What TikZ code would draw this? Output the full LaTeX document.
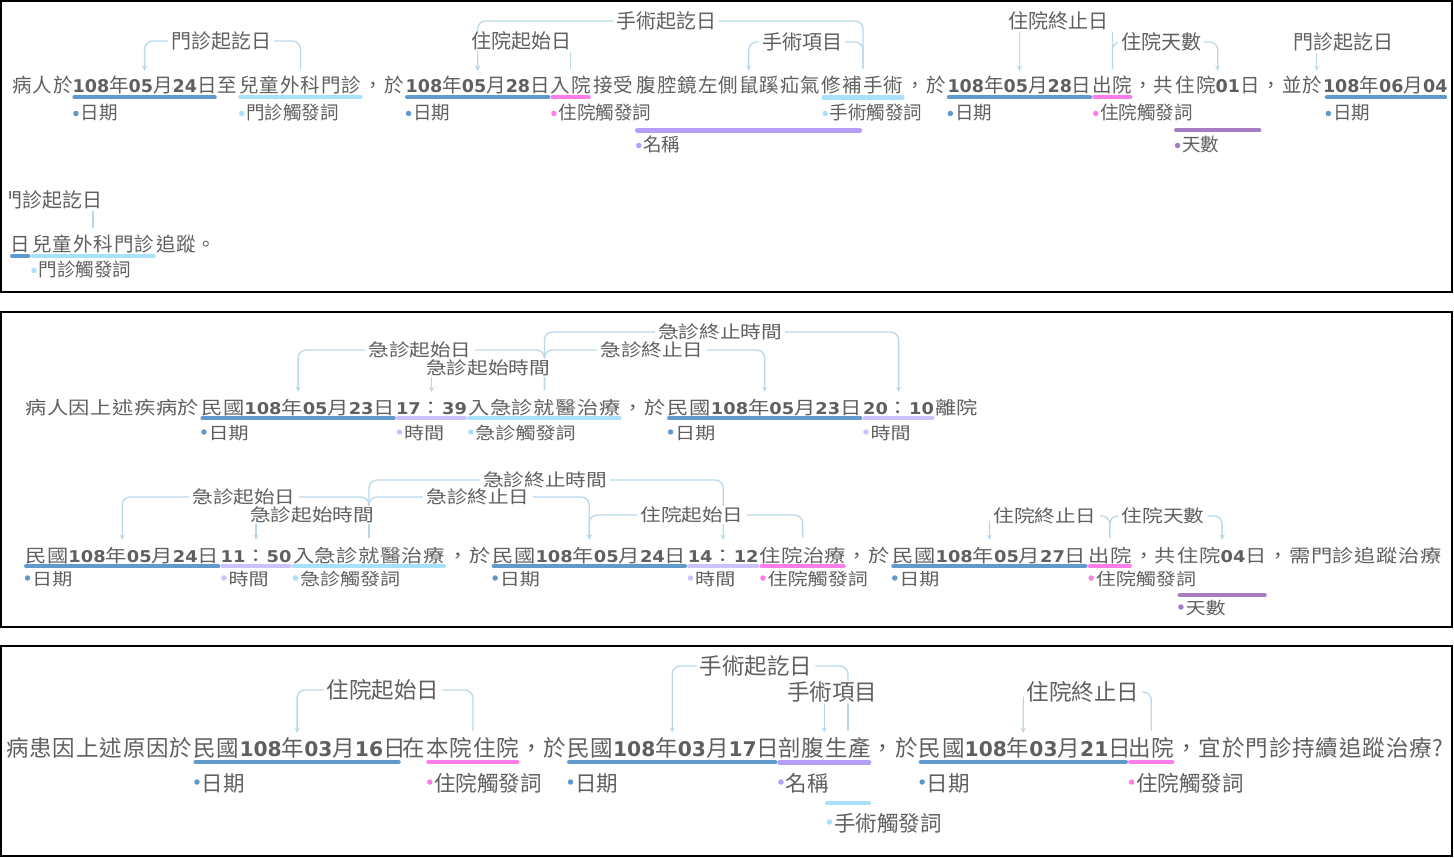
\documentclass[tikz,border=0pt]{standalone}
\usepackage{fontspec}
\setmainfont{Noto Sans CJK TC}
\newfontfamily\cjkI[LetterSpace=5]{Noto Sans CJK TC}
\newfontfamily\cjkII[FakeStretch=1.18, LetterSpace=3]{Noto Sans CJK TC}
\newfontfamily\cjkIII[LetterSpace=4]{Noto Sans CJK TC}
\newfontfamily\widecjk[FakeStretch=1.18]{Noto Sans CJK TC}
\newfontfamily\digitfont[Scale=0.9]{DejaVu Sans}
\newfontfamily\digitfontw[Scale=0.9, FakeStretch=1.1]{DejaVu Sans}
\usepackage{tikz}
\usetikzlibrary{arrows, positioning, fit, backgrounds}

\definecolor{txtc}{RGB}{95,95,95}
\definecolor{relc}{RGB}{185,215,235}
\definecolor{datec}{RGB}{96,153,204}
\definecolor{trigc}{RGB}{170,225,250}
\definecolor{hospc}{RGB}{255,125,235}
\definecolor{timec}{RGB}{205,195,250}
\definecolor{namec}{RGB}{180,160,250}
\definecolor{dayc}{RGB}{165,125,195}

\newcommand{\digs}[1]{{\digitfont\bfseries #1}}
\newcommand{\digsw}[1]{{\digitfontw\bfseries #1}}
\newcommand{\segfontI}{\cjkI\fontsize{19.5}{24}\selectfont}
\newcommand{\tagfontI}{\fontsize{18.5}{22}\selectfont}
\newcommand{\annfontI}{\fontsize{20}{24}\selectfont}
\newcommand{\segfontII}{\cjkII\fontsize{18}{22}\selectfont}
\newcommand{\tagfontII}{\widecjk\fontsize{17}{20}\selectfont}
\newcommand{\annfontII}{\widecjk\fontsize{17.5}{21}\selectfont}
\newcommand{\segfontIII}{\cjkIII\fontsize{22.5}{27}\selectfont}
\newcommand{\tagfontIII}{\fontsize{21.5}{26}\selectfont}
\newcommand{\annfontIII}{\fontsize{22.5}{27}\selectfont}

\tikzstyle{seg} = [inner sep=0pt, text=txtc, align=center, text height=22pt, text depth=4pt]
\tikzstyle{segI} = [seg, font=\segfontI]
\tikzstyle{segII} = [seg, font=\segfontII]
\tikzstyle{segIII} = [seg, font=\segfontIII, text height=23pt, text depth=6pt]
\tikzstyle{ann} = [inner xsep=3pt, inner ysep=1pt, text=txtc, fill=white]
\tikzstyle{annI} = [ann, font=\annfontI]
\tikzstyle{annII} = [ann, font=\annfontII]
\tikzstyle{annIII} = [ann, font=\annfontIII]
\tikzstyle{relline} = [draw=relc, line width=1.3pt, rounded corners=8pt, shorten >=2pt]
\tikzstyle{relarrow} = [draw=relc, line width=1.3pt, rounded corners=8pt, ->, >=stealth]
\tikzstyle{frame} = [draw=black, line width=2pt]
\tikzset{
  bar/.style={draw=#1, line width=4.5pt, line cap=round, shorten <=2.25pt, shorten >=2.25pt},
  tag/.style={anchor=base west, inner sep=0pt, text=txtc, text depth=0pt,
    label={[circle, fill=#1, inner sep=0pt, minimum size=5.5pt, xshift=-1.5pt]left:}},
  tagI/.style={tag=#1, font=\tagfontI, text height=13pt},
  tagII/.style={tag=#1, font=\tagfontII, text height=14pt},
  tagIII/.style={tag=#1, font=\tagfontIII, text height=18pt}
}

\begin{document}
\begin{tikzpicture}[x=1pt, y=-1pt]
\useasboundingbox (0,0) rectangle (1454,858);

% Panel frames
\draw[frame] (1,1) rectangle (1452,292);
\draw[frame] (1,312) rectangle (1452,627);
\draw[frame] (1,646) rectangle (1452,856);

% ---------- Panel 1 ----------
% Place nodes
\node (p1s1) [segI, anchor=base west, text width=60pt] at (12,93) {病人於};
\node (p1a) [segI, text width=144pt, right=0pt of p1s1] {\digs{108}年\digs{05}月\digs{24}日};
\node (p1s2) [segI, text width=21pt, right=0pt of p1a] {至};
\node (p1b) [segI, text width=124pt, right=0pt of p1s2] {兒童外科門診};
\node (p1s3) [segI, text width=42pt, right=0pt of p1b] {，於};
\node (p1c) [segI, text width=145pt, right=0pt of p1s3] {\digs{108}年\digs{05}月\digs{28}日};
\node (p1d) [segI, text width=40pt, right=0pt of p1c] {入院};
\node (p1s4) [segI, text width=44pt, right=0pt of p1d] {接受};
\node (p1e) [segI, text width=186pt, right=0pt of p1s4] {腹腔鏡左側鼠蹊疝氣};
\node (p1f) [segI, text width=40pt, right=0pt of p1e] {修補};
\node (p1g) [segI, text width=42pt, right=0pt of p1f] {手術};
\node (p1s5) [segI, text width=42pt, right=0pt of p1g] {，於};
\node (p1h) [segI, text width=145pt, right=0pt of p1s5] {\digs{108}年\digs{05}月\digs{28}日};
\node (p1i) [segI, text width=40pt, right=0pt of p1h] {出院};
\node (p1s6) [segI, text width=41pt, right=0pt of p1i] {，共};
\node (p1j) [segI, text width=87pt, right=0pt of p1s6] {住院\digs{01}日};
\node (p1s7) [segI, text width=61pt, right=0pt of p1j] {，並於};
\node (p1k) [segI, text width=124pt, right=0pt of p1s7] {\digs{108}年\digs{06}月\digs{04}};
\node (p1nm) [fit=(p1e)(p1f), inner sep=0pt] {};
\node (p1op) [fit=(p1f)(p1g), inner sep=0pt] {};

\node (p1l) [segI, anchor=base west, text width=20pt] at (10,252) {日};
\node (p1m) [segI, text width=125pt, right=0pt of p1l] {兒童外科門診};
\node (p1s8) [segI, text width=60pt, right=0pt of p1m] {追蹤。};

% Underlines and tags
\draw[bar=datec] (p1a.south west) -- (p1a.south east);
\draw[bar=trigc] (p1b.south west) -- (p1b.south east);
\draw[bar=datec] (p1c.south west) -- (p1c.south east);
\draw[bar=hospc] (p1d.south west) -- (p1d.south east);
\draw[bar=trigc] (p1op.south west) -- (p1op.south east);
\draw[bar=datec] (p1h.south west) -- (p1h.south east);
\draw[bar=hospc] (p1i.south west) -- (p1i.south east);
\draw[bar=datec] ([xshift=2pt]p1k.south west) -- (p1k.south east);
\draw[bar=namec] ([yshift=-33pt]p1nm.south west) -- ([yshift=-33pt]p1nm.south east);
\draw[bar=dayc] ([yshift=-33pt]p1j.south west) -- ([yshift=-33pt]p1j.south east);
\draw[bar=datec] (p1l.south west) -- (p1l.south east);
\draw[bar=trigc] (p1m.south west) -- (p1m.south east);

\node (p1ta) [tagI=datec] at ([shift={(8pt,-27pt)}]p1a.base west) {日期};
\node (p1tb) [tagI=trigc] at ([shift={(8pt,-27pt)}]p1b.base west) {門診觸發詞};
\node (p1tc) [tagI=datec] at ([shift={(8pt,-27pt)}]p1c.base west) {日期};
\node (p1td) [tagI=hospc] at ([shift={(8pt,-27pt)}]p1d.base west) {住院觸發詞};
\node (p1tf) [tagI=trigc] at ([shift={(8pt,-27pt)}]p1f.base west) {手術觸發詞};
\node (p1th) [tagI=datec] at ([shift={(8pt,-27pt)}]p1h.base west) {日期};
\node (p1ti) [tagI=hospc] at ([shift={(8pt,-27pt)}]p1i.base west) {住院觸發詞};
\node (p1tk) [tagI=datec] at ([shift={(10pt,-27pt)}]p1k.base west) {日期};
\node (p1tn) [tagI=namec] at ([shift={(8pt,-59pt)}]p1e.base west) {名稱};
\node (p1tj) [tagI=dayc] at ([shift={(8pt,-59pt)}]p1j.base west) {天數};
\node (p1tm) [tagI=trigc] at ([shift={(8pt,-25pt)}]p1m.base west) {門診觸發詞};

% Relation labels
\node (p1x1) [annI] at (221,41) {門診起訖日};
\node (p1x2) [annI] at (521,41) {住院起始日};
\node (p1x3) [annI] at (666,21) {手術起訖日};
\node (p1x4) [annI] at (802,42) {手術項目};
\node (p1x5) [annI] at (1058,21) {住院終止日};
\node (p1x6) [annI] at (1161,42) {住院天數};
\node (p1x7) [annI] at (1343,42) {門診起訖日};
\begin{scope}
  \clip (9,170) rectangle (400,230);
  \node (p1x8) [annI] at (52,200) {門診起訖日};
\end{scope}
\coordinate (p1kt) at ([xshift=-6pt]p1k.north west);

% Draw edges
\begin{scope}[on background layer]
  \draw [relarrow] (p1x1.west) -| (p1a.north);
  \draw [relline] (p1x1.east) -| (p1b.north);
  \draw [relarrow] (p1x2.south -| p1c.north) -- (p1c.north);
  \draw [relline] (p1x2.south -| p1d.north) -- (p1d.north);
  \draw [relarrow] (p1x3.west) -| (p1c.north);
  \draw [relline] (p1x3.east) -| (p1op.north);
  \draw [relarrow] (p1x4.west) -| (p1nm.north);
  \draw [relline] (p1x4.east) -| (p1op.north);
  \draw [relarrow] (p1x5.south -| p1h.north) -- (p1h.north);
  \draw [relline] (p1x5.south -| p1i.north) -- (p1i.north);
  \draw [relline] (p1x6.west) -| (p1i.north);
  \draw [relarrow] (p1x6.east) -| (p1j.north);
  \draw [relarrow] (p1x7.south -| p1kt) -- (p1kt);
  \draw [relline] (p1x8.south -| p1m.north) -- (p1m.north);
\end{scope}

% ---------- Panel 2 ----------
% Place nodes
\node (p2s1) [segII, anchor=base west, text width=176pt] at (24,414) {病人因上述疾病於};
\node (p2a) [segII, text width=195pt, right=0pt of p2s1] {民國\digsw{108}年\digsw{05}月\digsw{23}日};
\node (p2b) [segII, text width=71pt, right=0pt of p2a] {\digsw{17}：\digsw{39}};
\node (p2c) [segII, text width=154pt, right=0pt of p2b] {入急診就醫治療};
\node (p2s2) [segII, text width=45pt, right=0pt of p2c] {，於};
\node (p2d) [segII, text width=195pt, right=0pt of p2s2] {民國\digsw{108}年\digsw{05}月\digsw{23}日};
\node (p2e) [segII, text width=72pt, right=0pt of p2d] {\digsw{20}：\digsw{10}};
\node (p2s3) [segII, text width=43pt, right=0pt of p2e] {離院};

\node (p2f) [segII, anchor=base west, text width=196pt] at (24,562) {民國\digsw{108}年\digsw{05}月\digsw{24}日};
\node (p2g) [segII, text width=71pt, right=0pt of p2f] {\digsw{11}：\digsw{50}};
\node (p2h) [segII, text width=154pt, right=0pt of p2g] {入急診就醫治療};
\node (p2s4) [segII, text width=45pt, right=0pt of p2h] {，於};
\node (p2i) [segII, text width=195pt, right=0pt of p2s4] {民國\digsw{108}年\digsw{05}月\digsw{24}日};
\node (p2j) [segII, text width=72pt, right=0pt of p2i] {\digsw{14}：\digsw{12}};
\node (p2k) [segII, text width=86pt, right=0pt of p2j] {住院治療};
\node (p2s5) [segII, text width=45pt, right=0pt of p2k] {，於};
\node (p2l) [segII, text width=196pt, right=0pt of p2s5] {民國\digsw{108}年\digsw{05}月\digsw{27}日};
\node (p2m) [segII, text width=44pt, right=0pt of p2l] {出院};
\node (p2s6) [segII, text width=45pt, right=0pt of p2m] {，共};
\node (p2n) [segII, text width=89pt, right=0pt of p2s6] {住院\digsw{04}日};
\node (p2s7) [segII, text width=175pt, right=0pt of p2n] {，需門診追蹤治療};

% Underlines and tags
\draw[bar=datec] (p2a.south west) -- (p2a.south east);
\draw[bar=timec] (p2b.south west) -- (p2b.south east);
\draw[bar=trigc] (p2c.south west) -- (p2c.south east);
\draw[bar=datec] (p2d.south west) -- (p2d.south east);
\draw[bar=timec] (p2e.south west) -- (p2e.south east);
\draw[bar=datec] (p2f.south west) -- (p2f.south east);
\draw[bar=timec] (p2g.south west) -- (p2g.south east);
\draw[bar=trigc] (p2h.south west) -- (p2h.south east);
\draw[bar=datec] (p2i.south west) -- (p2i.south east);
\draw[bar=timec] (p2j.south west) -- (p2j.south east);
\draw[bar=hospc] (p2k.south west) -- (p2k.south east);
\draw[bar=datec] (p2l.south west) -- (p2l.south east);
\draw[bar=hospc] (p2m.south west) -- (p2m.south east);
\draw[bar=dayc] ([yshift=-29pt]p2n.south west) -- ([yshift=-29pt]p2n.south east);

\node (p2ta) [tagII=datec] at ([shift={(8pt,-25pt)}]p2a.base west) {日期};
\node (p2tb) [tagII=timec] at ([shift={(8pt,-25pt)}]p2b.base west) {時間};
\node (p2tc) [tagII=trigc] at ([shift={(8pt,-25pt)}]p2c.base west) {急診觸發詞};
\node (p2td) [tagII=datec] at ([shift={(8pt,-25pt)}]p2d.base west) {日期};
\node (p2te) [tagII=timec] at ([shift={(8pt,-25pt)}]p2e.base west) {時間};
\node (p2tf) [tagII=datec] at ([shift={(8pt,-23pt)}]p2f.base west) {日期};
\node (p2tg) [tagII=timec] at ([shift={(8pt,-23pt)}]p2g.base west) {時間};
\node (p2th) [tagII=trigc] at ([shift={(8pt,-23pt)}]p2h.base west) {急診觸發詞};
\node (p2ti) [tagII=datec] at ([shift={(8pt,-23pt)}]p2i.base west) {日期};
\node (p2tj) [tagII=timec] at ([shift={(8pt,-23pt)}]p2j.base west) {時間};
\node (p2tk) [tagII=hospc] at ([shift={(8pt,-23pt)}]p2k.base west) {住院觸發詞};
\node (p2tl) [tagII=datec] at ([shift={(8pt,-23pt)}]p2l.base west) {日期};
\node (p2tm) [tagII=hospc] at ([shift={(8pt,-23pt)}]p2m.base west) {住院觸發詞};
\node (p2tn) [tagII=dayc] at ([shift={(8pt,-52pt)}]p2n.base west) {天數};

% Relation labels
\node (p2x1) [annII] at (420,350) {急診起始日};
\node (p2x2) [annII] at (488,368) {急診起始時間};
\node (p2x3) [annII] at (720,332) {急診終止時間};
\node (p2x4) [annII] at (652,350) {急診終止日};
\node (p2x5) [annII] at (244,497) {急診起始日};
\node (p2x6) [annII] at (312,515) {急診起始時間};
\node (p2x7) [annII] at (545,480) {急診終止時間};
\node (p2x8) [annII] at (478,497) {急診終止日};
\node (p2x9) [annII] at (692,515) {住院起始日};
\node (p2x10) [annII] at (1045,516) {住院終止日};
\node (p2x11) [annII] at (1163,516) {住院天數};

% Draw edges
\begin{scope}[on background layer]
  \draw [relarrow] (p2x1.west) -| (p2a.north);
  \draw [relline] (p2x1.east) -| (p2c.north);
  \draw [relarrow] (p2x2.south -| p2b.north) -- (p2b.north);
  \draw [relline] (p2x2.south -| p2c.north) -- (p2c.north);
  \draw [relline] (p2x3.west) -| (p2c.north);
  \draw [relarrow] (p2x3.east) -| (p2e.north);
  \draw [relline] (p2x4.west) -| (p2c.north);
  \draw [relarrow] (p2x4.east) -| (p2d.north);
  \draw [relarrow] (p2x5.west) -| (p2f.north);
  \draw [relline] (p2x5.east) -| (p2h.north);
  \draw [relarrow] (p2x6.south -| p2g.north) -- (p2g.north);
  \draw [relline] (p2x6.south -| p2h.north) -- (p2h.north);
  \draw [relline] (p2x7.west) -| (p2h.north);
  \draw [relarrow] (p2x7.east) -| (p2j.north);
  \draw [relline] (p2x8.west) -| (p2h.north);
  \draw [relarrow] (p2x8.east) -| (p2i.north);
  \draw [relarrow] (p2x9.west) -| (p2i.north);
  \draw [relline] (p2x9.east) -| (p2k.north);
  \draw [relarrow] (p2x10.west) -| (p2l.north);
  \draw [relline] (p2x10.east) -| (p2m.north);
  \draw [relline] (p2x11.west) -| (p2m.north);
  \draw [relarrow] (p2x11.east) -| (p2n.north);
\end{scope}

% ---------- Panel 3 ----------
% Place nodes
\node (p3s1) [segIII, anchor=base west, text width=188pt] at (5,756) {病患因上述原因於};
\node (p3a) [segIII, text width=207pt, right=0pt of p3s1] {民國\digs{108}年\digs{03}月\digs{16}日};
\node (p3s2) [segIII, text width=25pt, right=0pt of p3a] {在};
\node (p3b) [segIII, text width=93pt, right=0pt of p3s2] {本院住院};
\node (p3s3) [segIII, text width=47pt, right=0pt of p3b] {，於};
\node (p3c) [segIII, text width=210pt, right=0pt of p3s3] {民國\digs{108}年\digs{03}月\digs{17}日};
\node (p3d) [segIII, text width=47pt, right=0pt of p3c] {剖腹};
\node (p3e) [segIII, text width=46pt, right=0pt of p3d] {生產};
\node (p3s4) [segIII, text width=47pt, right=0pt of p3e] {，於};
\node (p3f) [segIII, text width=209pt, right=0pt of p3s4] {民國\digs{108}年\digs{03}月\digs{21}日};
\node (p3g) [segIII, text width=46pt, right=0pt of p3f] {出院};
\node (p3s5) [segIII, text width=270pt, right=0pt of p3g] {，宜於門診持續追蹤治療?};
\node (p3nm) [fit=(p3d)(p3e), inner sep=0pt] {};

% Underlines and tags
\draw[bar=datec] (p3a.south west) -- (p3a.south east);
\draw[bar=hospc] (p3b.south west) -- (p3b.south east);
\draw[bar=datec] (p3c.south west) -- (p3c.south east);
\draw[bar=namec] (p3nm.south west) -- (p3nm.south east);
\draw[bar=datec] (p3f.south west) -- (p3f.south east);
\draw[bar=hospc] (p3g.south west) -- (p3g.south east);
\draw[bar=trigc] ([yshift=-41pt]p3e.south west) -- ([yshift=-41pt]p3e.south east);

\node (p3ta) [tagIII=datec] at ([shift={(8pt,-35pt)}]p3a.base west) {日期};
\node (p3tb) [tagIII=hospc] at ([shift={(8pt,-35pt)}]p3b.base west) {住院觸發詞};
\node (p3tc) [tagIII=datec] at ([shift={(8pt,-35pt)}]p3c.base west) {日期};
\node (p3td) [tagIII=namec] at ([shift={(8pt,-35pt)}]p3d.base west) {名稱};
\node (p3tf) [tagIII=datec] at ([shift={(8pt,-35pt)}]p3f.base west) {日期};
\node (p3tg) [tagIII=hospc] at ([shift={(8pt,-35pt)}]p3g.base west) {住院觸發詞};
\node (p3te) [tagIII=trigc] at ([shift={(9pt,-75pt)}]p3e.base west) {手術觸發詞};

% Relation labels
\node (p3x1) [annIII] at (383,690) {住院起始日};
\node (p3x2) [annIII] at (756,666) {手術起訖日};
\node (p3x3) [annIII] at (832,692) {手術項目};
\node (p3x4) [annIII] at (1083,692) {住院終止日};

% Draw edges
\begin{scope}[on background layer]
  \draw [relarrow] (p3x1.west) -| (p3a.north);
  \draw [relline] (p3x1.east) -| (p3b.north);
  \draw [relarrow] (p3x2.west) -| (p3c.north);
  \draw [relline] (p3x2.east) -| (p3e.north);
  \draw [relarrow] (p3x3.south -| p3nm.north) -- (p3nm.north);
  \draw [relline] (p3x3.south -| p3e.north) -- (p3e.north);
  \draw [relarrow] (p3x4.west) -| (p3f.north);
  \draw [relline] (p3x4.east) -| (p3g.north);
\end{scope}

\end{tikzpicture}
\end{document}
